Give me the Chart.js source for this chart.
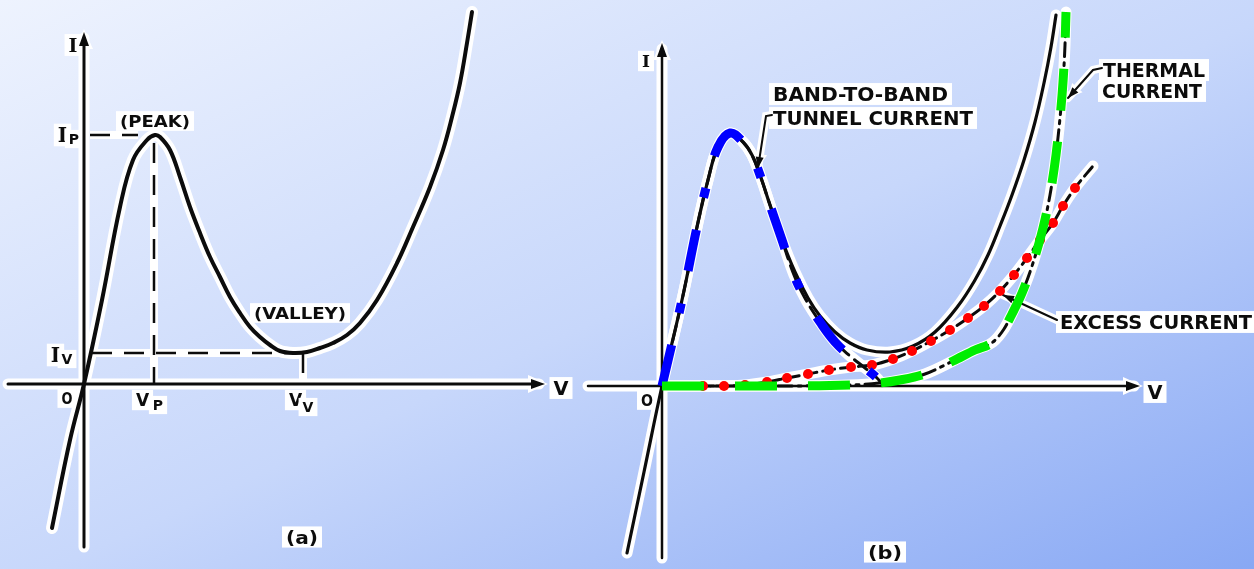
<!DOCTYPE html>
<html>
<head>
<meta charset="utf-8">
<script src="https://cdn.jsdelivr.net/npm/chart.js@4.4.1/dist/chart.umd.min.js"></script>
<style>
  html, body { margin: 0; padding: 0; }
  body {
    width: 1254px; height: 569px; overflow: hidden;
    background: linear-gradient(to bottom right, #eef3fe 0%, #c7d7fb 52%, #88a8f4 100%);
  }
  #wrap { position: relative; width: 1254px; height: 569px; }
</style>
</head>
<body>
<div id="wrap"><canvas id="iv" width="1254" height="569"></canvas></div>
<script>
// ---- (a) tunnel diode I–V characteristic (arbitrary units) ----
const A_V = [-3.2, -1.4, 0, 1.8, 3.6, 4.9, 6.3, 7.1, 7.6, 8.6, 9.6, 10.6, 11.6, 12.6, 13.6, 14.6, 15.6, 16.6, 17.6, 18.6, 19.6, 20.9, 22.3, 23.6, 24.9, 26.3, 27.6, 29.3, 31.3, 32.9, 34.6, 35.9, 36.8, 37.6, 38.3, 38.8];
const A_I = [-14.4, -5.6, 0, 8.4, 17.7, 22.4, 24.4, 24.9, 24.7, 23.4, 20.7, 17.7, 15.1, 12.7, 10.7, 8.7, 7.1, 5.7, 4.7, 3.9, 3.3, 3.1, 3.2, 3.6, 4.1, 4.9, 6.1, 8.4, 12.1, 15.7, 19.7, 23.4, 26.7, 30.1, 34.1, 37.2];
const PEAK_V = 7.0, PEAK_I = 24.9;
const VALLEY_V = 21.9, VALLEY_I = 3.1;

// ---- (b) current components ----
const TOTAL_V = [-3.5, -1.8, 0, 2.0, 3.5, 4.6, 5.6, 6.8, 8.1, 9.0, 9.8, 10.8, 12.0, 13.3, 14.6, 15.8, 17.3, 18.8, 20.5, 22.8, 25.1, 27.3, 29.6, 31.3, 32.6, 33.8, 35.0, 36.2, 37.3, 38.2, 38.9, 39.4];
const TOTAL_I = [-16.7, -8.6, 0, 8.6, 15.9, 20.6, 23.9, 25.3, 24.4, 23.1, 21.1, 18.1, 14.6, 11.4, 8.8, 7.0, 5.4, 4.3, 3.6, 3.4, 4.0, 5.4, 8.0, 10.6, 13.1, 16.0, 19.1, 22.6, 26.4, 30.3, 33.9, 37.1];

const TUNNEL_V = [0, 2.0, 3.5, 4.6, 5.6, 6.8, 8.1, 9.0, 9.8, 10.8, 12.0, 13.2, 14.4, 15.8, 17.3, 18.8, 20.3, 21.5, 22.0];
const TUNNEL_I = [0, 8.6, 15.9, 20.6, 23.9, 25.3, 24.4, 23.1, 21.1, 18.1, 14.6, 11.1, 8.6, 6.4, 4.4, 3.0, 1.8, 0.8, 0.2];

const EXCESS_V = [0, 4.1, 6.2, 8.3, 10.5, 12.5, 14.6, 16.7, 18.9, 21.0, 23.1, 25.0, 26.9, 28.8, 30.6, 32.2, 33.8, 35.2, 36.5, 37.8, 39.1, 40.1, 41.3, 43.1];
const EXCESS_I = [0, 0, 0, 0.1, 0.4, 0.8, 1.2, 1.6, 1.9, 2.1, 2.7, 3.5, 4.5, 5.6, 6.8, 8.0, 9.5, 11.1, 12.8, 14.6, 16.3, 18.0, 19.8, 22.0];

const THERMAL_V = [0, 9.8, 18.8, 21.8, 23.8, 26.3, 29.1, 31.3, 33.1, 34.2, 35.0, 36.0, 37.1, 38.1, 38.8, 39.4, 39.8, 40.1, 40.3, 40.4];
const THERMAL_I = [0, 0, 0.1, 0.3, 0.6, 1.2, 2.5, 3.6, 4.4, 5.7, 7.2, 9.3, 12.3, 15.8, 19.1, 23.1, 26.8, 30.4, 34.1, 37.4];

// axis extents per panel
const AXES = {
  a: { vMin: -7.6, vMax: 46.1, iMin: -16.3, iMax: 35.2, width: 3 },
  b: { vMin: -7.4, vMax: 47.8, iMin: -17.2, iMax: 34.3, width: 2.5 }
};

// leader lines pointing at the component curves
const LEADERS = [
  { p: 'b', v: [11.0, 10.4, 9.6], i: [27.1, 27.0, 21.8] },
  { p: 'b', v: [44.0, 43.1, 40.6], i: [31.8, 31.6, 28.8] },
  { p: 'b', v: [39.5, 34.1], i: [6.6, 9.1] }
];

// text annotations: panel, text, position, font
const SANS = '"DejaVu Sans", sans-serif';
const SERIF = '"DejaVu Serif", serif';
const LABELS = [
  { p: 'a', t: 'I', x: -1.1, y: 33.9, size: 19, fam: SERIF },
  { p: 'a', t: 'I', x: -2.15, y: 24.9, size: 20, fam: SERIF },
  { p: 'a', t: 'P', x: -1.0, y: 24.5, size: 14 },
  { p: 'a', t: '(PEAK)', x: 7.1, y: 26.3, size: 16, w: 70 },
  { p: 'a', t: 'I', x: -2.85, y: 2.9, size: 20, fam: SERIF },
  { p: 'a', t: 'V', x: -1.7, y: 2.5, size: 14 },
  { p: 'a', t: 'O', x: -1.7, y: -1.4, size: 16, w: 11 },
  { p: 'a', t: 'V', x: 5.85, y: -1.6, size: 17 },
  { p: 'a', t: 'P', x: 7.4, y: -2.1, size: 14 },
  { p: 'a', t: 'V', x: 21.15, y: -1.6, size: 17 },
  { p: 'a', t: 'V', x: 22.4, y: -2.3, size: 14 },
  { p: 'a', t: '(VALLEY)', x: 21.6, y: 7.1, size: 16, w: 92 },
  { p: 'a', t: '(a)', x: 21.8, y: -15.3, size: 18, w: 32 },
  { p: 'a', t: 'V', x: 47.7, y: -0.4, size: 19, w: 15 },
  { p: 'b', t: 'I', x: -1.6, y: 32.5, size: 17, fam: SERIF },
  { p: 'b', t: 'O', x: -1.5, y: -1.4, size: 16, w: 12 },
  { p: 'b', t: '(b)', x: 22.3, y: -16.6, size: 18, w: 34 },
  { p: 'b', t: 'V', x: 49.3, y: -0.6, size: 19, w: 15 },
  { p: 'b', t: 'BAND-TO-BAND', x: 11.1, y: 29.2, size: 19, w: 175, left: true },
  { p: 'b', t: 'TUNNEL CURRENT', x: 11.1, y: 26.8, size: 19, w: 200, left: true },
  { p: 'b', t: 'THERMAL', x: 44.1, y: 31.6, size: 19, w: 102, left: true },
  { p: 'b', t: 'CURRENT', x: 44.0, y: 29.5, size: 19, w: 100, left: true },
  { p: 'b', t: 'EXCESS CURRENT', x: 39.8, y: 6.4, size: 19, w: 192, left: true }
];

const INK = '#0c0c0c';
const pts = (xs, ys) => xs.map((x, k) => ({ x, y: ys[k] }));

// smooth spline through the points (curves with a peak or a valley)
function curve(panel, xs, ys, style) {
  return Object.assign({
    data: pts(xs, ys), xAxisID: 'x' + panel, yAxisID: 'y' + panel,
    pointRadius: 0, fill: false, tension: 0.4,
    borderJoinStyle: 'round', borderCapStyle: 'round'
  }, style);
}
// monotone spline (curves that hug the V axis before rising)
function rising(panel, xs, ys, style) {
  return curve(panel, xs, ys, Object.assign({ cubicInterpolationMode: 'monotone' }, style));
}
function seg(panel, xs, ys, style) {
  return Object.assign({
    data: pts(xs, ys), xAxisID: 'x' + panel, yAxisID: 'y' + panel,
    pointRadius: 0, fill: false, tension: 0, borderCapStyle: 'butt'
  }, style);
}

const HALO = { borderColor: '#ffffff', order: 50 };
const refLines = [
  [[0.6, PEAK_V - 1.6], [PEAK_I, PEAK_I]],
  [[PEAK_V, PEAK_V], [PEAK_I - 0.8, 0]],
  [[0.8, VALLEY_V], [VALLEY_I, VALLEY_I]],
  [[VALLEY_V, VALLEY_V], [VALLEY_I, 0]]
];

const datasets = [];
// white halos under the ink
datasets.push(curve('a', A_V, A_I, Object.assign({ borderWidth: 12 }, HALO)));
refLines.forEach(([v, i]) => datasets.push(seg('a', v, i, Object.assign({ borderWidth: 8 }, HALO))));
datasets.push(curve('b', TOTAL_V, TOTAL_I, Object.assign({ borderWidth: 11 }, HALO)));
datasets.push(curve('b', TUNNEL_V, TUNNEL_I, Object.assign({ borderWidth: 11 }, HALO)));
datasets.push(rising('b', EXCESS_V, EXCESS_I, Object.assign({ borderWidth: 11 }, HALO)));
datasets.push(rising('b', THERMAL_V, THERMAL_I, Object.assign({ borderWidth: 11 }, HALO)));
// axes layer (drawn by plugin between halos and ink)
datasets.push({ id: 'axes', data: [], order: 30, xAxisID: 'xa', yAxisID: 'ya' });
// ink
datasets.push(curve('a', A_V, A_I, { borderColor: INK, borderWidth: 4, order: 20 }));
refLines.forEach(([v, i]) => datasets.push(seg('a', v, i, { borderColor: INK, borderWidth: 2.5, borderDash: [20, 12], order: 20 })));
datasets.push(curve('b', TOTAL_V, TOTAL_I, { borderColor: INK, borderWidth: 3.2, order: 20 }));
datasets.push(curve('b', TUNNEL_V, TUNNEL_I, { borderColor: INK, borderWidth: 3, borderDash: [16, 7], order: 19 }));
datasets.push(rising('b', THERMAL_V, THERMAL_I, { borderColor: INK, borderWidth: 3, borderDash: [14, 6, 3, 6], order: 19 }));
datasets.push(rising('b', EXCESS_V, EXCESS_I, {
  borderColor: INK, borderWidth: 3, borderDash: [12, 6], order: 4,
  pointRadius: EXCESS_V.map((v, k) => (k === 0 || k === EXCESS_V.length - 1) ? 0 : 5),
  pointBackgroundColor: '#ff0000', pointBorderWidth: 0
}));
// coloured component overlays
datasets.push(curve('b', TUNNEL_V, TUNNEL_I, { borderColor: '#0000ff', borderWidth: 9, borderDash: [42, 33, 10, 33], borderCapStyle: 'butt', order: 3 }));
datasets.push(rising('b', THERMAL_V, THERMAL_I, { borderColor: '#00ee00', borderWidth: 9, borderDash: [42, 31], borderCapStyle: 'butt', order: 1 }));

function arrowHead(ctx, fx, fy, tx, ty, len, half) {
  const a = Math.atan2(ty - fy, tx - fx);
  ctx.beginPath();
  ctx.moveTo(tx, ty);
  ctx.lineTo(tx - len * Math.cos(a) + half * Math.sin(a), ty - len * Math.sin(a) - half * Math.cos(a));
  ctx.lineTo(tx - len * Math.cos(a) - half * Math.sin(a), ty - len * Math.sin(a) + half * Math.cos(a));
  ctx.closePath();
  ctx.fill();
}

function axisGeom(chart, p) {
  const ax = AXES[p], sx = chart.scales['x' + p], sy = chart.scales['y' + p];
  return {
    ax, x0: sx.getPixelForValue(0), y0: sy.getPixelForValue(0),
    xl: sx.getPixelForValue(ax.vMin), xr: sx.getPixelForValue(ax.vMax),
    yb: sy.getPixelForValue(ax.iMin), yt: sy.getPixelForValue(ax.iMax)
  };
}

function leaderPath(chart, L) {
  const sx = chart.scales['x' + L.p], sy = chart.scales['y' + L.p];
  return L.v.map((v, k) => [sx.getPixelForValue(v), sy.getPixelForValue(L.i[k])]);
}

function drawAxesAndLeaders(ctx, chart, halo) {
  ctx.save();
  ctx.lineCap = 'round';
  ['a', 'b'].forEach(p => {
    const g = axisGeom(chart, p);
    ctx.strokeStyle = halo ? '#fff' : INK;
    ctx.fillStyle = halo ? '#fff' : INK;
    ctx.lineWidth = halo ? 11 : g.ax.width;
    ctx.beginPath();
    ctx.moveTo(g.xl, g.y0); ctx.lineTo(g.xr - 6, g.y0);
    ctx.moveTo(g.x0, g.yb); ctx.lineTo(g.x0, g.yt + 6);
    ctx.stroke();
    const L = halo ? 20 : 14, H = halo ? 9 : 5;
    arrowHead(ctx, g.xl, g.y0, g.xr + (halo ? 3 : 0), g.y0, L, H);
    arrowHead(ctx, g.x0, g.yb, g.x0, g.yt - (halo ? 3 : 0), L, H);
  });
  LEADERS.forEach(Ld => {
    const path = leaderPath(chart, Ld);
    ctx.strokeStyle = halo ? '#fff' : INK;
    ctx.fillStyle = halo ? '#fff' : INK;
    ctx.lineWidth = halo ? 8 : 2;
    ctx.beginPath();
    path.forEach(([x, y], k) => k ? ctx.lineTo(x, y) : ctx.moveTo(x, y));
    ctx.stroke();
    const n = path.length;
    arrowHead(ctx, path[n - 2][0], path[n - 2][1], path[n - 1][0], path[n - 1][1], halo ? 14 : 11, halo ? 7 : 4);
  });
  ctx.restore();
}

function drawLabels(ctx, chart) {
  LABELS.forEach(l => {
    const sx = chart.scales['x' + l.p], sy = chart.scales['y' + l.p];
    const x = sx.getPixelForValue(l.x), y = sy.getPixelForValue(l.y);
    ctx.save();
    ctx.font = 'bold ' + l.size + 'px ' + (l.fam || SANS);
    const mw = ctx.measureText(l.t).width;
    const k = l.w ? l.w / mw : 1;
    const w = mw * k;
    const capH = l.size * 0.73;
    const left = l.left ? x : x - w / 2;
    ctx.fillStyle = '#ffffff';
    ctx.fillRect(left - 4, y - capH / 2 - 4, w + 8, capH + 8);
    ctx.fillStyle = INK;
    ctx.textBaseline = 'alphabetic';
    ctx.translate(left, y + capH / 2);
    ctx.scale(k, 1);
    ctx.fillText(l.t, 0, 0);
    ctx.restore();
  });
}

const diagramPlugin = {
  id: 'diagram',
  beforeDatasetsDraw(chart) {
    const ctx = chart.ctx;
    drawAxesAndLeaders(ctx, chart, true);
    drawLabels(ctx, chart);
  },
  afterDatasetDraw(chart, args) {
    if (chart.data.datasets[args.index].id === 'axes') {
      drawAxesAndLeaders(chart.ctx, chart, false);
    }
  }
};

const hidden = (min, max, axis) => ({ type: 'linear', axis, min, max, display: false });

new Chart(document.getElementById('iv'), {
  type: 'line',
  data: { datasets },
  options: {
    responsive: false,
    animation: false,
    devicePixelRatio: 1,
    events: [],
    layout: { padding: 0 },
    scales: {
      xa: hidden(-8.4, 117.0, 'x'),
      ya: hidden(-18.5, 38.4, 'y'),
      xb: hidden(-66.2, 59.2, 'x'),
      yb: hidden(-18.3, 38.6, 'y')
    },
    plugins: { legend: { display: false }, tooltip: { enabled: false } }
  },
  plugins: [diagramPlugin]
});
</script>
</body>
</html>
